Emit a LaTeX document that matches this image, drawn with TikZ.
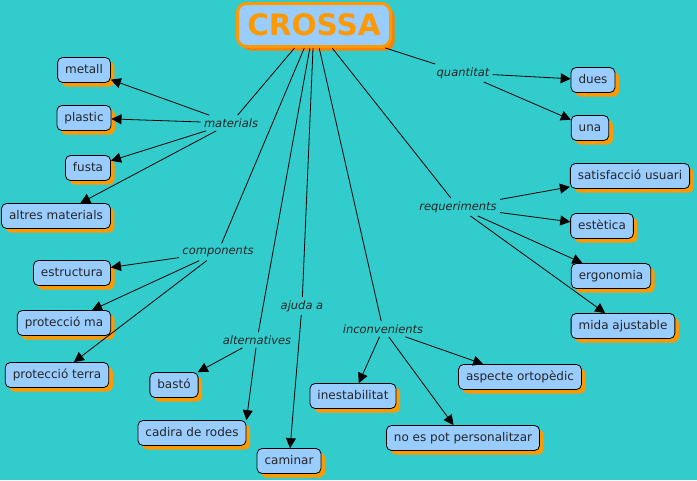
\documentclass[tikz,border=0pt]{standalone}
\usepackage{fontspec}
\setmainfont{DejaVu Sans}
\usetikzlibrary{arrows.meta,shadows}

\definecolor{bgteal}{RGB}{51,204,204}
\definecolor{boxblue}{RGB}{153,204,255}
\definecolor{mainorange}{RGB}{255,153,0}
\definecolor{darkorange}{RGB}{255,128,0}

\begin{document}
\begin{tikzpicture}[x=1pt,y=-1pt,line width=0.8pt,
  concept/.style={draw=black,fill=boxblue,rounded corners=5pt,
    font=\fontsize{12}{14}\selectfont,text=black!85,
    inner xsep=7.5pt,minimum height=25pt,text height=9.5pt,text depth=2.5pt,
    drop shadow={shadow xshift=4pt,shadow yshift=-4pt,fill=mainorange,opacity=1}},
  linkword/.style={font=\fontsize{11.5}{13}\selectfont\itshape,text=black!85,inner sep=3pt},
  arr/.style={-{Triangle[length=10pt,width=10pt]}}]

% Background
\useasboundingbox (0,0) rectangle (697,480);
\fill[bgteal] (0,0) rectangle (697,480);

% Main concept
\node[draw=mainorange,line width=3pt,fill=boxblue,rounded corners=9pt,
  minimum width=153pt,minimum height=43pt,
  font=\fontsize{29.5}{32}\selectfont\bfseries,text=mainorange,
  drop shadow={shadow xshift=4pt,shadow yshift=-4pt,fill=darkorange,opacity=1}]
  (crossa) at (314,25) {CROSSA};

% Linking words
\node[linkword] (materials) at (231,123) {materials};
\node[linkword] (components) at (218,252) {components};
\node[linkword] (alternatives) at (257,340) {alternatives};
\node[linkword] (ajuda) at (302,306) {ajuda a};
\node[linkword] (inconv) at (383,329) {inconvenients};
\node[linkword] (requeriments) at (458,207) {requeriments};
\node[linkword] (quantitat) at (463,73) {quantitat};

% Concepts
\node[concept] (metall) at (84,70) {metall};
\node[concept] (plastic) at (84,118) {plastic};
\node[concept] (fusta) at (88,168) {fusta};
\node[concept] (altres) at (56,216) {altres materials};

\node[concept] (estructura) at (72,273) {estructura};
\node[concept] (protma) at (64,323) {protecció ma};
\node[concept] (protterra) at (57,375) {protecció terra};

\node[concept] (basto) at (174,385) {bastó};
\node[concept] (cadira) at (192,433) {cadira de rodes};
\node[concept] (caminar) at (289,461) {caminar};

\node[concept] (inestab) at (353,396) {inestabilitat};
\node[concept] (personal) at (463,438) {no es pot personalitzar};
\node[concept] (ortoped) at (520,377) {aspecte ortopèdic};

\node[concept] (satisf) at (630,176) {satisfacció usuari};
\node[concept] (estetica) at (602,226) {estètica};
\node[concept] (ergo) at (611,276) {ergonomia};
\node[concept] (mida) at (623,326) {mida ajustable};

\node[concept] (dues) at (593,80) {dues};
\node[concept] (una) at (590,128) {una};

% Lines from the main concept
\foreach \w in {materials,components,alternatives,ajuda,inconv,requeriments,quantitat}
    \draw (crossa) -- (\w);

% Arrows to the concepts
\foreach \c in {metall,plastic,fusta,altres}
    \draw[arr] (materials) -- (\c);
\foreach \c in {estructura,protma,protterra}
    \draw[arr] (components) -- (\c);
\draw[arr] (alternatives) -- (basto);
\draw[arr] (alternatives) -- (cadira.north east);
\draw[arr] (ajuda) -- (caminar);
\foreach \c in {inestab,personal,ortoped}
    \draw[arr] (inconv) -- (\c);
\foreach \c in {satisf,estetica,ergo,mida}
    \draw[arr] (requeriments) -- (\c);
\foreach \c in {dues,una}
    \draw[arr] (quantitat) -- (\c);

\end{tikzpicture}
\end{document}
